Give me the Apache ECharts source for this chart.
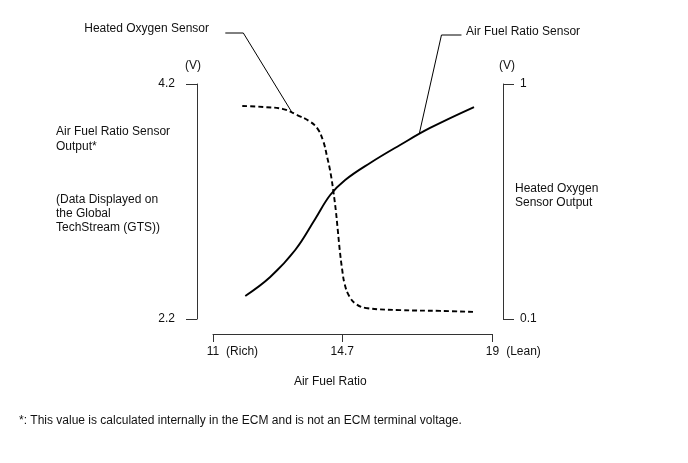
<!DOCTYPE html>
<html><head><meta charset="utf-8">
<script src="https://cdn.jsdelivr.net/npm/echarts@6/dist/echarts.min.js"></script>
<style>html,body{margin:0;padding:0;background:#fff}#c{width:688px;height:463px}</style>
</head><body><div id="c"></div>
<script>
// Air Fuel Ratio Sensor output (left axis, V) vs air fuel ratio
const afrX = [11.924, 12.638, 13.353, 13.925, 14.354, 14.783, 15.498, 16.355, 17.213, 18.471];
const afrV = [2.396, 2.557, 2.787, 3.051, 3.255, 3.383, 3.528, 3.681, 3.826, 4.004];
// Heated Oxygen Sensor output (right axis, V) vs air fuel ratio
const ho2X = [11.838, 12.438, 13.010, 13.410, 13.753, 13.982, 14.153, 14.268, 14.368, 14.448, 14.514, 14.571, 14.628, 14.691, 14.768, 14.897, 15.097, 15.383, 16.355, 17.499, 18.471];
const ho2V = [0.916, 0.912, 0.904, 0.881, 0.858, 0.831, 0.782, 0.720, 0.657, 0.586, 0.517, 0.441, 0.364, 0.295, 0.234, 0.188, 0.157, 0.142, 0.134, 0.131, 0.127];
// Axis ticks
const xTicks = [11, 14.7, 19];
const xTickNotes = { '11': '(Rich)', '19': '(Lean)' };
const leftTicks = [2.2, 4.2];
const rightTicks = [0.1, 1];
// Leader lines (in data units, left axis)
const hoLeaderX = [11.352, 11.868, 13.271];
const hoLeaderY = [4.634, 4.634, 3.953];
const afLeaderX = [18.112, 17.539, 16.909];
const afLeaderY = [4.617, 4.617, 3.783];
// Texts
const hoLabel = 'Heated Oxygen Sensor';
const afLabel = 'Air Fuel Ratio Sensor';
const leftTitle1 = 'Air Fuel Ratio Sensor\nOutput*';
const leftTitle2 = '(Data Displayed on\nthe Global\nTechStream (GTS))';
const rightTitle = 'Heated Oxygen\nSensor Output';
const xName = 'Air Fuel Ratio';
const footnote = '*: This value is calculated internally in the ECM and is not an ECM terminal voltage.';

const FONT = "'Liberation Sans', Arial, sans-serif";
const TXT = '#111';
const AX = '#333';
const zip = (a, b) => a.map((v, i) => [v, b[i]]);

const chart = echarts.init(document.getElementById('c'), null, { renderer: 'canvas' });
const txtStyle = { fontFamily: FONT, fontSize: 12, color: TXT };

chart.setOption({
  animation: false,
  backgroundColor: '#fff',
  textStyle: { fontFamily: FONT },
  grid: { left: 213, right: 195.5, top: 84, bottom: 144, containLabel: false },
  xAxis: {
    type: 'value', min: 11, max: 19, offset: 15,
    name: xName, nameLocation: 'middle', nameGap: 42,
    nameTextStyle: Object.assign({}, txtStyle, { padding: [0, 45, 0, 0] }),
    axisLine: { show: true, lineStyle: { color: AX, width: 1 } },
    axisTick: { show: true, customValues: xTicks, length: 8, inside: false, lineStyle: { color: AX } },
    splitLine: { show: false },
    axisLabel: {
      customValues: xTicks, margin: 12, color: TXT, fontFamily: FONT, fontSize: 12,
      formatter: function (v) {
        const note = xTickNotes[String(v)];
        if (!note) return '{v|' + v + '}';
        const k = note === '(Rich)' ? 'R' : 'L';
        return '{p' + k + '| }{v|' + v + '}{t' + k + '|  ' + note + '}';
      },
      rich: {
        v: txtStyle,
        pR: Object.assign({}, txtStyle, { width: 39 }),
        tR: Object.assign({}, txtStyle, { width: 39 }),
        pL: Object.assign({}, txtStyle, { width: 42 }),
        tL: Object.assign({}, txtStyle, { width: 42 })
      }
    }
  },
  yAxis: [
    {
      type: 'value', position: 'left', min: 2.2, max: 4.2, offset: 16,
      name: '(V)', nameLocation: 'end', nameGap: 12,
      nameTextStyle: Object.assign({}, txtStyle, { padding: [0, 8, 0, 0] }),
      axisLine: { show: true, lineStyle: { color: AX, width: 1 } },
      axisTick: { show: true, customValues: leftTicks, length: 11, lineStyle: { color: AX } },
      splitLine: { show: false },
      axisLabel: { customValues: leftTicks, margin: 22, color: TXT, fontFamily: FONT, fontSize: 12,
        formatter: v => v.toFixed(1) }
    },
    {
      type: 'value', position: 'right', min: 0.1, max: 1, offset: 10.5,
      name: '(V)', nameLocation: 'end', nameGap: 12,
      nameTextStyle: Object.assign({}, txtStyle, { padding: [0, 0, 0, 8] }),
      axisLine: { show: true, lineStyle: { color: AX, width: 1 } },
      axisTick: { show: true, customValues: rightTicks, length: 11, lineStyle: { color: AX } },
      splitLine: { show: false },
      axisLabel: { customValues: rightTicks, margin: 17, color: TXT, fontFamily: FONT, fontSize: 12,
        formatter: v => String(v) }
    }
  ],
  series: [
    {
      name: 'Air Fuel Ratio Sensor', type: 'line', yAxisIndex: 0,
      data: zip(afrX, afrV), smooth: 0.4, showSymbol: false, symbol: 'none',
      lineStyle: { color: '#000', width: 1.9 }
    },
    {
      name: 'Heated Oxygen Sensor', type: 'line', yAxisIndex: 1,
      data: zip(ho2X, ho2V), smooth: 0.4, showSymbol: false, symbol: 'none',
      lineStyle: { color: '#000', width: 1.9, type: [5, 3] }
    },
    {
      name: 'leaderHO2', type: 'line', yAxisIndex: 0, clip: false, silent: true,
      data: zip(hoLeaderX, hoLeaderY), showSymbol: false, symbol: 'none',
      lineStyle: { color: '#000', width: 1 }
    },
    {
      name: 'leaderAFR', type: 'line', yAxisIndex: 0, clip: false, silent: true,
      data: zip(afLeaderX, afLeaderY), showSymbol: false, symbol: 'none',
      lineStyle: { color: '#000', width: 1 }
    }
  ],
  graphic: [
    { type: 'text', right: 688 - 209, top: 23, style: { text: hoLabel, font: '12px ' + FONT, fill: TXT } },
    { type: 'text', left: 466, top: 26, style: { text: afLabel, font: '12px ' + FONT, fill: TXT } },
    { type: 'text', left: 56, top: 124, style: { text: leftTitle1, font: '12px ' + FONT, fill: TXT, lineHeight: 15 } },
    { type: 'text', left: 56, top: 193, style: { text: leftTitle2, font: '12px ' + FONT, fill: TXT, lineHeight: 14 } },
    { type: 'text', left: 515, top: 182, style: { text: rightTitle, font: '12px ' + FONT, fill: TXT, lineHeight: 14 } },
    { type: 'text', left: 19, top: 415, style: { text: footnote, font: '12px ' + FONT, fill: TXT } }
  ]
});
</script>
</body></html>
